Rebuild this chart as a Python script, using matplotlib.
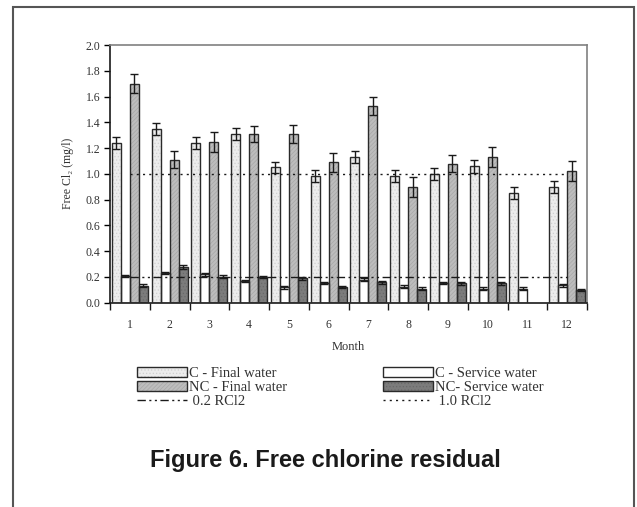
import matplotlib
matplotlib.use("Agg")
import matplotlib.pyplot as plt
import numpy as np
from matplotlib.patches import Rectangle
from matplotlib.lines import Line2D
from matplotlib.legend_handler import HandlerTuple

months = [1, 2, 3, 4, 5, 6, 7, 8, 9, 10, 11, 12]
c_final = [1.24, 1.35, 1.24, 1.31, 1.05, 0.98, 1.13, 0.98, 1.00, 1.06, 0.85, 0.90]
c_final_err = [0.045, 0.047, 0.045, 0.047, 0.045, 0.046, 0.047, 0.046, 0.049, 0.05, 0.047, 0.046]
c_serv = [0.21, 0.23, 0.22, 0.17, 0.12, 0.15, 0.18, 0.125, 0.15, 0.11, 0.11, 0.135]
c_serv_err = [0.008, 0.01, 0.01, 0.008, 0.01, 0.008, 0.01, 0.01, 0.008, 0.01, 0.008, 0.01]
nc_final = [1.70, 1.11, 1.25, 1.31, 1.31, 1.09, 1.53, 0.90, 1.08, 1.13, np.nan, 1.025]
nc_final_err = [0.075, 0.065, 0.077, 0.065, 0.067, 0.075, 0.07, 0.077, 0.067, 0.078, np.nan, 0.077]
nc_serv = [0.13, 0.28, 0.20, 0.20, 0.19, 0.12, 0.16, 0.11, 0.15, 0.15, np.nan, 0.10]
nc_serv_err = [0.012, 0.015, 0.012, 0.008, 0.01, 0.008, 0.012, 0.01, 0.01, 0.01, np.nan, 0.01]
ref_low = 0.2
ref_high = 1.0

plt.rcParams['hatch.linewidth'] = 0.5
serif = ['Liberation Serif', 'DejaVu Serif']
plt.rcParams['font.family'] = serif

fig = plt.figure(figsize=(6.37, 5.07), dpi=100)
W, H = 637, 507
ax = fig.add_axes([110 / W, 1 - 302.7 / H, (587 - 110) / W, (302.7 - 45) / H])

x = np.array(months, dtype=float)
bw = 0.225
offs = [-1.5 * bw, -0.5 * bw, 0.5 * bw, 1.5 * bw]
styles = [
    ('#ececec', '.....', '#d0d0d0'),
    ('white', None, 'white'),
    ('#bdbdbd', '////////', '#a8a8a8'),
    ('#7c7c7c', '.....', '#6a6a6a'),
]
series = [(c_final, c_final_err), (c_serv, c_serv_err), (nc_final, nc_final_err), (nc_serv, nc_serv_err)]
edge = '#2a2a2a'
for (vals, errs), (fc, hatch, hc), off in zip(series, styles, offs):
    v = np.array(vals, dtype=float)
    ax.bar(x + off, v, bw, color=fc, edgecolor=hc, hatch=hatch, linewidth=0, zorder=2)
    ax.bar(x + off, v, bw, facecolor='none', edgecolor=edge, linewidth=1.0, zorder=3)
    ax.errorbar(x + off, v, yerr=np.array(errs, dtype=float), fmt='none', ecolor='#1a1a1a',
                elinewidth=1.0, capsize=3.2, capthick=1.0, zorder=4)

ax.plot([months[0], months[-1]], [ref_low, ref_low], color='#1a1a1a', lw=1.0,
        dashes=(6, 2.5, 1.5, 2.5, 1.5, 2.5), zorder=5)
ax.plot([months[0], months[-1]], [ref_high, ref_high], color='#1a1a1a', lw=1.0,
        dashes=(1.5, 3), zorder=5)

ax.set_xlim(0.5, 12.5)
ax.set_ylim(0, 2.0)
ax.set_yticks(np.arange(0, 2.01, 0.2))
ax.set_yticklabels([f"{t:.1f}" for t in np.arange(0, 2.01, 0.2)])
ax.set_xticks(np.arange(0.5, 12.6, 1.0))
ax.set_xticklabels([])
ax.set_xticks(x, minor=True)
ax.set_xticklabels([str(m) for m in months], minor=True)
ax.tick_params(axis='x', which='major', direction='out', length=5, width=1, color='#1a1a1a')
ax.tick_params(axis='x', which='minor', length=0, pad=12, labelsize=8.5, labelcolor='#333333')
ax.tick_params(axis='y', direction='out', length=4, width=1, labelsize=8.5, labelcolor='#333333', pad=3)
for s in ['top', 'right']:
    ax.spines[s].set_color('#808080')
    ax.spines[s].set_linewidth(1.2)
for s in ['left', 'bottom']:
    ax.spines[s].set_color('#1a1a1a')
    ax.spines[s].set_linewidth(1.2)

ax.set_ylabel('Free Cl\u2082 (mg/l)', fontsize=8.5, color='#333333', labelpad=8)
fig.text(348 / W, 1 - 347 / H, 'Month', ha='center', va='center', fontsize=9, color='#333333')


def legend_patch(fc, hatch, hc):
    fill = Rectangle((0, 0), 1, 1, facecolor=fc, edgecolor=hc, hatch=hatch, lw=0)
    outline = Rectangle((0, 0), 1, 1, facecolor='none', edgecolor=edge, lw=1.0)
    return (fill, outline)


handles = [
    legend_patch(*styles[0]),
    legend_patch(*styles[2]),
    Line2D([], [], color='#1a1a1a', lw=1.0, dashes=(6, 2.5, 1.5, 2.5, 1.5, 2.5)),
    legend_patch(*styles[1]),
    legend_patch(*styles[3]),
    Line2D([], [], color='#1a1a1a', lw=1.0, dashes=(1.5, 3)),
]
labels = ['C - Final water', 'NC - Final water', ' 0.2 RCl2',
          'C - Service water', 'NC- Service water', ' 1.0 RCl2']
leg = fig.legend(handles, labels, ncol=2, loc='upper left',
                 bbox_to_anchor=(137 / W, 1 - 367 / H), frameon=False,
                 fontsize=10.5, handlelength=3.4, handleheight=0.65, handletextpad=0.15,
                 labelspacing=0.07, columnspacing=6.6, borderpad=0, borderaxespad=0,
                 handler_map={tuple: HandlerTuple(ndivide=1, pad=0)})
for t in leg.get_texts():
    t.set_color('#333333')

fig.text(325 / W, 1 - 460 / H, 'Figure 6. Free chlorine residual', ha='center', va='center',
         fontsize=17, fontweight='bold', family=['Liberation Sans', 'DejaVu Sans'], color='#1a1a1a')

border = Rectangle((13 / W, -0.05), (634 - 13) / W, 1 - 7 / H + 0.05, transform=fig.transFigure,
                   fill=False, edgecolor='#555555', lw=1.5)
fig.patches.append(border)

fig.savefig('out.png', dpi=100)
